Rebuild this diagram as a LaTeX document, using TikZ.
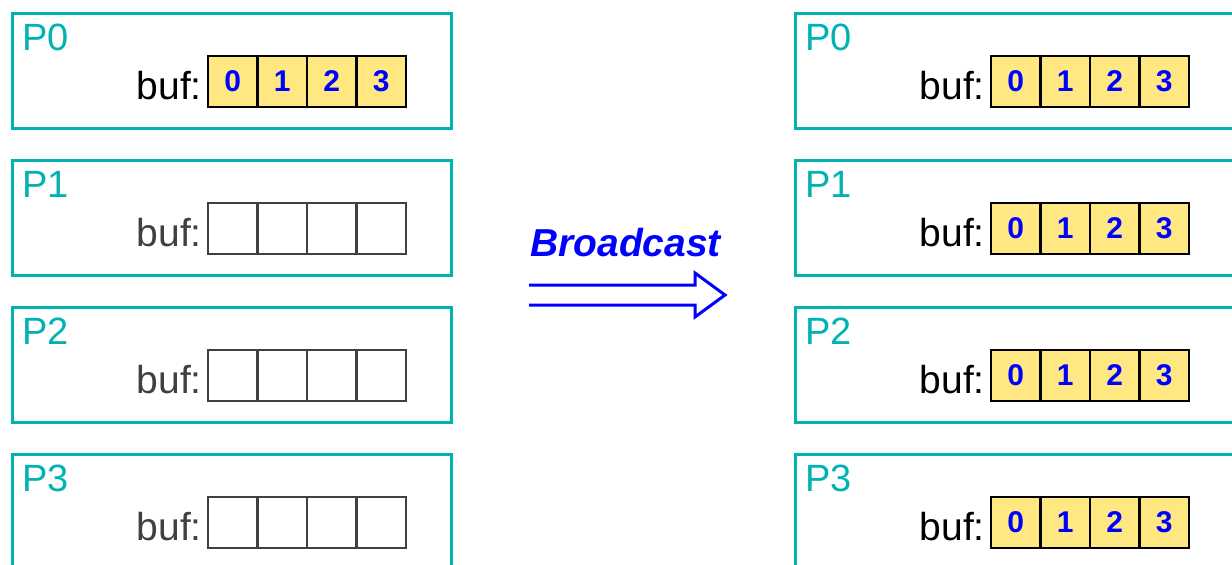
\documentclass[tikz,border=0pt]{standalone}
\usepackage{fontspec}
\setmainfont{Liberation Sans}
\definecolor{procteal}{HTML}{00B2B2}
\definecolor{cellyellow}{HTML}{FFE882}
\definecolor{emptygray}{HTML}{404040}
\definecolor{bcblue}{HTML}{0000FF}
\begin{document}
\begin{tikzpicture}[x=1pt,y=-1pt,
  procbox/.style={draw=procteal,line width=3pt,minimum width=439pt,minimum height=115pt,inner sep=0pt,anchor=north west},
  proclabel/.style={text=procteal,font=\fontsize{38}{40}\selectfont,inner sep=0pt,anchor=base west},
  buflabel/.style={font=\fontsize{39}{40}\selectfont,inner sep=0pt,anchor=base east},
  fullcell/.style={draw=black,fill=cellyellow,line width=2.5pt,minimum width=49.5pt,minimum height=51pt,inner sep=0pt,text=bcblue,font=\fontsize{30}{30}\selectfont\bfseries},
  emptycell/.style={draw=emptygray,line width=2.5pt,minimum width=49.5pt,minimum height=51pt,inner sep=0pt},
  bcarrow/.style={draw=bcblue,line width=3pt,line join=miter}
]
\useasboundingbox (0,0) rectangle (1232,565);
\clip (0,0) rectangle (1232,565);

% process boxes and labels
\foreach \s/\dx in {L/0,R/783}{
  \foreach \r in {0,1,2,3}{
    \node[procbox] (box-\s\r) at (11+\dx,11.5+147*\r) {};
    \node[proclabel] (lab-\s\r) at (22+\dx,50+147*\r) {P\r};
  }
}

% filled buffers
\foreach \s/\dx/\r in {L/0/0,R/783/0,R/783/1,R/783/2,R/783/3}{
  \node[buflabel] (buf-\s\r) at (202+\dx,99+147*\r) {buf:};
  \foreach \i in {0,1,2,3}{
    \node[fullcell] (cell-\s\r-\i) at (232.75+49.5*\i+\dx,81.5+147*\r) {\i};
  }
}

% empty buffers
\foreach \r in {1,2,3}{
  \node[buflabel,text=emptygray] (buf-L\r) at (202,99+147*\r) {buf:};
  \foreach \i in {0,1,2,3}{
    \node[emptycell] (cell-L\r-\i) at (232.75+49.5*\i,81.5+147*\r) {};
  }
}

% broadcast label and arrow
\node[inner sep=0pt,anchor=base west,text=bcblue,font=\fontsize{39}{40}\selectfont\bfseries\itshape] (bc) at (530,256) {Broadcast};
\coordinate (a0) at (529,285);
\draw[bcarrow] (a0) -- ++(166,0) -- ++(0,-12) -- ++(30,22) -- ++(-30,22) -- ++(0,-12) -- ++(-166,0);
\end{tikzpicture}
\end{document}
